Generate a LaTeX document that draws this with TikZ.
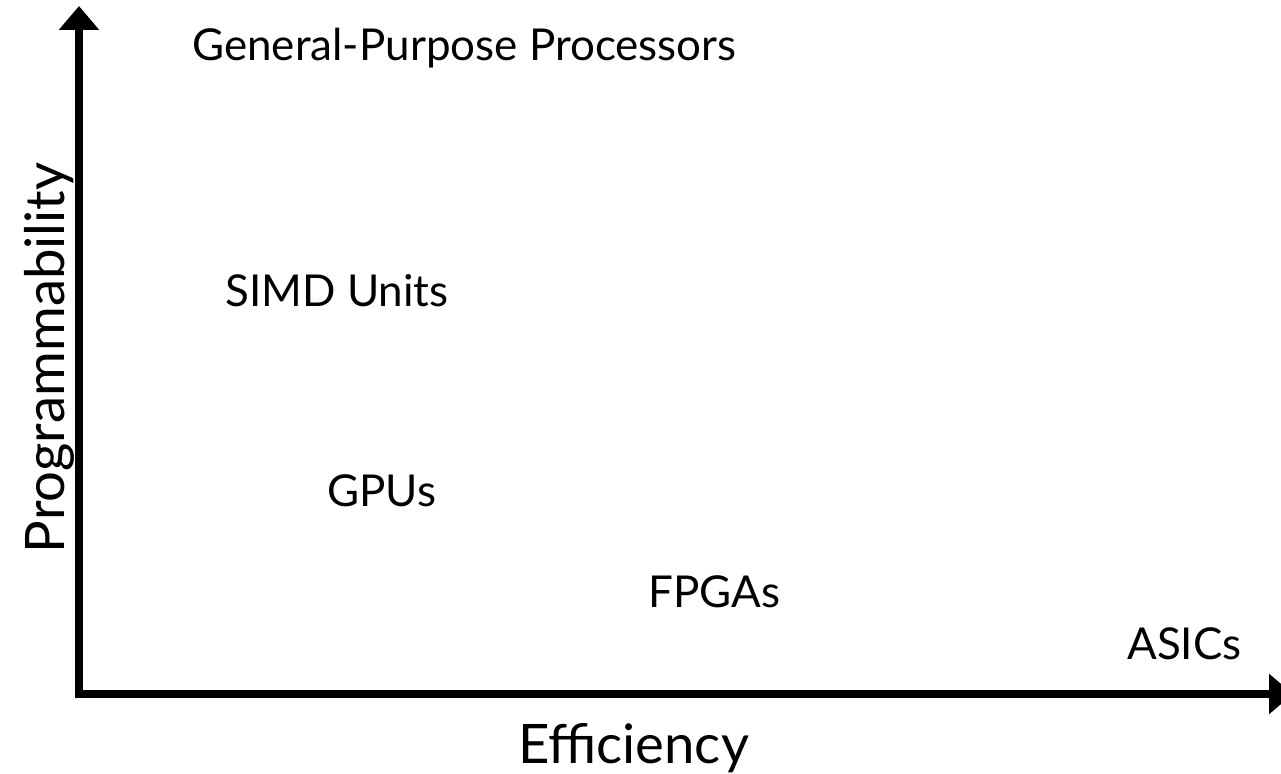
\documentclass[tikz,border=0pt]{standalone}
\usepackage{fontspec}
\setmainfont{Lato}
\usetikzlibrary{arrows.meta}
\usetikzlibrary{positioning}

\begin{document}
\begin{tikzpicture}[
  axis/.style={line width=4.3pt,-{Triangle[length=0.48cm,width=0.78cm]}},
  chip/.style={font=\fontsize{25}{30}\selectfont,inner sep=0pt,anchor=base west},
  axislabel/.style={font=\fontsize{31}{36}\selectfont,inner sep=0pt,anchor=base}
]
\useasboundingbox (0,0) rectangle (25.62,15.46);
\coordinate (O) at (1.58,1.58);
\coordinate (ytop) at (1.58,15.34);
\coordinate (xend) at (25.86,1.58);
\draw[axis] ([yshift=-2.15pt]O) -- (ytop);
\draw[axis] ([xshift=-2.15pt]O) -- (xend);

\node[axislabel] (eff) at (12.67,0.19) {Efficiency};
\node[axislabel,rotate=90] (prog) at (1.28,8.30) {Programmability};

\node[chip] (gpp) at (3.84,14.25) {General-Purpose Processors};
\node[chip] (simd) at (4.50,9.32) {SIMD Units};
\node[chip] (gpu) at (6.54,5.34) {GPUs};
\node[chip] (fpga) at (12.96,3.31) {FPGAs};
\node[chip] (asic) at (22.54,2.28) {ASICs};
\end{tikzpicture}
\end{document}
